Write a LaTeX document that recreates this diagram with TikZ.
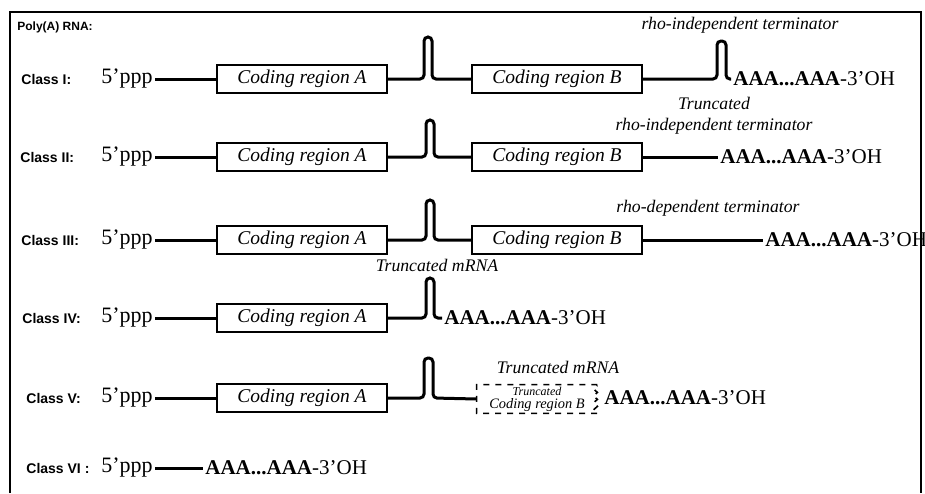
\documentclass[tikz,border=0pt]{standalone}
\usepackage{fontspec}
\setmainfont{Liberation Serif}
\setsansfont{Liberation Sans}
\usepackage{tikz}
\usetikzlibrary{positioning}
\newcommand{\polyA}{\textbf{AAA...AAA}-3'OH}

\begin{document}
\begin{tikzpicture}[x=0.5pt, y=-0.5pt,
  cls/.style={anchor=west, inner sep=0pt,
              font=\sffamily\bfseries\fontsize{7}{8}\selectfont},
  five/.style={anchor=east, inner sep=1pt, font=\fontsize{11}{12}\selectfont},
  coding/.style={draw, line width=1pt, minimum width=85pt, minimum height=14pt,
                 inner sep=0pt, font=\itshape\fontsize{9.75}{11}\selectfont},
  tail/.style={anchor=west, inner sep=1pt, font=\fontsize{10.5}{12}\selectfont},
  note/.style={align=center, inner sep=0pt,
               font=\itshape\fontsize{8.85}{10.5}\selectfont},
  rna/.style={line width=1.5pt, rounded corners=2pt}]
\useasboundingbox (0,0) rectangle (925,493);
% frame, open at the bottom
\draw[line width=1pt] (10,493) -- (10,12) -- (921,12) -- (921,493);
\node[cls, font=\sffamily\bfseries\fontsize{6}{7}\selectfont] (title)
  at (17,27) {Poly(A) RNA:};

% class I
\node[cls] (c1) at (21,79) {Class I:};
\node[five] (p1) at (155,79) {5'ppp};
\node[coding] (a1) at (302,79) {Coding region A};
\node[coding] (b1) at (557,79) {Coding region B};
\node[tail] (t1) at (731,79) {\polyA};
\node[note] (n1) at (740,25) {rho-independent terminator};
\draw[rna] (p1.east) -- (a1.west);
\draw[rna] (a1.east) -- ++(36,0) -- ++(0,-42) -- ++(8,0) -- ++(0,42) -- (b1.west);
\draw[rna] (b1.east) -- ++(74,0) -- ++(0,-38) -- ++(9,0) -- ++(0,38) -- (t1.west);

% class II
\node[cls] (c2) at (20,157) {Class II:};
\node[five] (p2) at (155,157) {5'ppp};
\node[coding] (a2) at (302,157) {Coding region A};
\node[coding] (b2) at (557,157) {Coding region B};
\node[tail] (t2) at (718,157) {\polyA};
\node[note] (n2) at (714,116) {Truncated\\rho-independent terminator};
\draw[rna] (p2.east) -- (a2.west);
\draw[rna] (a2.east) -- ++(38,0) -- ++(0,-37) -- ++(8,0) -- ++(0,37) -- (b2.west);
\draw[rna] (b2.east) -- (t2.west);

% class III
\node[cls] (c3) at (21,240) {Class III:};
\node[five] (p3) at (155,240) {5'ppp};
\node[coding] (a3) at (302,240) {Coding region A};
\node[coding] (b3) at (557,240) {Coding region B};
\node[tail] (t3) at (763,240) {\polyA};
\node[note] (n3) at (708,208) {rho-dependent terminator};
\draw[rna] (p3.east) -- (a3.west);
\draw[rna] (a3.east) -- ++(38,0) -- ++(0,-40) -- ++(8,0) -- ++(0,40) -- (b3.west);
\draw[rna] (b3.east) -- (t3.west);

% class IV
\node[note] (n4) at (437,265) {Truncated mRNA};
\node[cls] (c4) at (22,318) {Class IV:};
\node[five] (p4) at (155,318) {5'ppp};
\node[coding] (a4) at (302,318) {Coding region A};
\node[tail] (t4) at (442,318) {\polyA};
\draw[rna] (p4.east) -- (a4.west);
\draw[rna] (a4.east) -- ++(38,0) -- ++(0,-40) -- ++(8,0) -- ++(0,40) -- (t4.west);

% class V
\node[note] (n5) at (558,367) {Truncated mRNA};
\node[cls] (c5) at (26,398) {Class V:};
\node[five] (p5) at (155,398) {5'ppp};
\node[coding] (a5) at (302,398) {Coding region A};
\node[minimum width=60pt, minimum height=14pt, inner sep=0pt, align=center,
      font=\itshape\fontsize{7.2}{6.5}\selectfont] (tb) at (537,399)
  {{\fontsize{6}{6}\selectfont Truncated}\\Coding region B};
\node[tail] (t5) at (602,398) {\polyA};
\draw[rna] (p5.east) -- (a5.west);
\draw[rna] (a5.east) -- ++(36,0) -- ++(0,-40) -- ++(9,0) -- ++(0,40) -- (tb.west);
\draw[dashed, line width=0.8pt] (tb.north east) -- (tb.north west)
  -- (tb.south west) -- (tb.south east)
  -- ++(-4,-3.5) -- ++(4,-3.5) -- ++(-4,-3.5) -- ++(4,-3.5)
  -- ++(-4,-3.5) -- ++(4,-3.5) -- ++(-4,-3.5) -- ++(4,-3.5);

% class VI
\node[cls] (c6) at (26,468) {Class VI :};
\node[five] (p6) at (155,468) {5'ppp};
\node[tail] (t6) at (203,468) {\polyA};
\draw[rna] (p6.east) -- (t6.west);
\end{tikzpicture}
\end{document}
